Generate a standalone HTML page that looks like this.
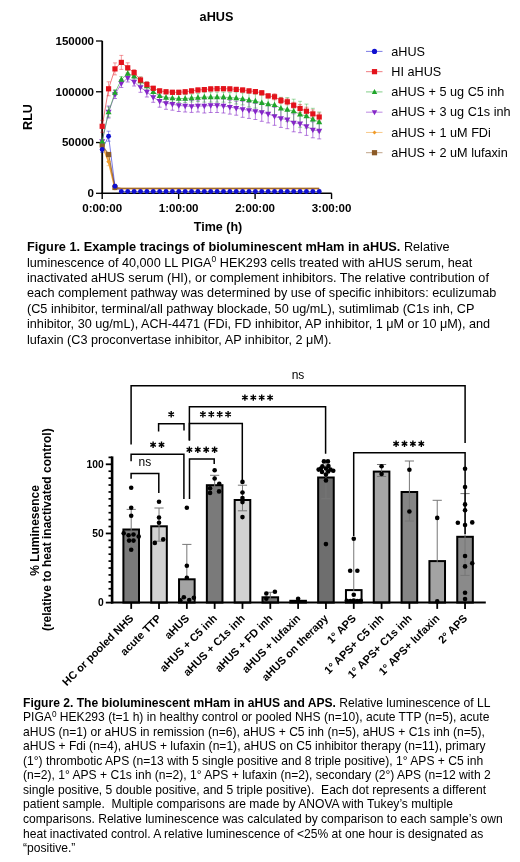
<!DOCTYPE html>
<html><head><meta charset="utf-8"><style>
html,body{margin:0;padding:0;background:#fff;}
svg{display:block;font-family:"Liberation Sans", sans-serif;will-change:transform;}
</style></head><body>
<svg width="520" height="862" viewBox="0 0 520 862">
<rect width="520" height="862" fill="#fff"/>
<text x="216.5" y="21.3" font-size="12.66" font-weight="bold" text-anchor="middle">aHUS</text><path d="M102.2,40.8V193.6" stroke="#000" stroke-width="1.8" fill="none"/><path d="M96,193.30H102.2" stroke="#000" stroke-width="1.3"/><text x="94" y="197.20" font-size="11.55" font-weight="bold" text-anchor="end">0</text><path d="M96,142.54H102.2" stroke="#000" stroke-width="1.3"/><text x="94" y="146.44" font-size="11.55" font-weight="bold" text-anchor="end">50000</text><path d="M96,91.77H102.2" stroke="#000" stroke-width="1.3"/><text x="94" y="95.67" font-size="11.55" font-weight="bold" text-anchor="end">100000</text><path d="M96,41.00H102.2" stroke="#000" stroke-width="1.3"/><text x="94" y="44.90" font-size="11.55" font-weight="bold" text-anchor="end">150000</text><path d="M101.3,193.3H331.7" stroke="#000" stroke-width="1.6" fill="none"/><path d="M102.20,193.3V199" stroke="#000" stroke-width="1.4"/><text x="102.20" y="212.3" font-size="11.55" font-weight="bold" text-anchor="middle">0:00:00</text><path d="M178.65,193.3V199" stroke="#000" stroke-width="1.4"/><text x="178.65" y="212.3" font-size="11.55" font-weight="bold" text-anchor="middle">1:00:00</text><path d="M255.10,193.3V199" stroke="#000" stroke-width="1.4"/><text x="255.10" y="212.3" font-size="11.55" font-weight="bold" text-anchor="middle">2:00:00</text><path d="M331.55,193.3V199" stroke="#000" stroke-width="1.4"/><text x="331.55" y="212.3" font-size="11.55" font-weight="bold" text-anchor="middle">3:00:00</text><text x="218" y="231.3" font-size="12.5" font-weight="bold" text-anchor="middle">Time (h)</text><text transform="translate(32.4,117) rotate(-90)" font-size="12.66" font-weight="bold" text-anchor="middle">RLU</text><polyline points="102.20,141.30 108.58,112.00 114.97,94.50 121.35,83.50 127.73,78.00 134.12,82.00 140.50,87.30 146.88,92.00 153.26,97.30 159.65,101.20 166.03,103.30 172.41,104.20 178.80,105.50 185.18,106.00 191.56,106.40 197.94,106.00 204.33,106.00 210.71,105.50 217.09,105.50 223.48,106.00 229.86,107.10 236.24,108.20 242.63,109.30 249.01,110.40 255.39,111.50 261.77,112.30 268.16,113.90 274.54,116.30 280.92,118.40 287.31,119.70 293.69,122.80 300.07,123.70 306.46,126.40 312.84,129.80 319.22,130.90" fill="none" stroke="#8526c8" stroke-width="0.8" stroke-opacity="0.7"/><polyline points="102.20,141.30 108.58,112.00 114.97,92.70 121.35,79.60 127.73,73.50 134.12,76.00 140.50,81.00 146.88,86.00 153.26,91.90 159.65,95.80 166.03,97.60 172.41,98.20 178.80,98.50 185.18,98.50 191.56,98.00 197.94,97.60 204.33,97.10 210.71,97.10 217.09,97.10 223.48,97.10 229.86,97.60 236.24,98.00 242.63,98.90 249.01,100.00 255.39,101.10 261.77,102.80 268.16,104.00 274.54,104.90 280.92,108.30 287.31,109.60 293.69,111.20 300.07,114.30 306.46,116.10 312.84,119.30 319.22,122.00" fill="none" stroke="#1fa52a" stroke-width="0.8" stroke-opacity="0.7"/><polyline points="102.20,126.30 108.58,88.80 114.97,68.90 121.35,62.40 127.73,67.80 134.12,72.60 140.50,80.00 146.88,84.60 153.26,88.30 159.65,90.90 166.03,91.80 172.41,92.30 178.80,92.30 185.18,91.80 191.56,90.90 197.94,90.00 204.33,89.60 210.71,88.90 217.09,88.70 223.48,88.70 229.86,88.90 236.24,89.40 242.63,90.00 249.01,90.90 255.39,91.60 261.77,92.80 268.16,95.90 274.54,96.80 280.92,100.50 287.31,101.80 293.69,105.30 300.07,108.50 306.46,111.20 312.84,113.90 319.22,117.00" fill="none" stroke="#e3121b" stroke-width="0.8" stroke-opacity="0.7"/><polyline points="102.20,145.00 108.58,161.70 114.97,188.20 121.35,188.60 127.73,188.60 134.12,188.60 140.50,188.60 146.88,188.60 153.26,188.60 159.65,188.60 166.03,188.60 172.41,188.60 178.80,188.60 185.18,188.60 191.56,188.60 197.94,188.60 204.33,188.60 210.71,188.60 217.09,188.60 223.48,188.60 229.86,188.60 236.24,188.60 242.63,188.60 249.01,188.60 255.39,188.60 261.77,188.60 268.16,188.60 274.54,188.60 280.92,188.60 287.31,188.60 293.69,188.60 300.07,188.60 306.46,188.60 312.84,188.60 319.22,188.60" fill="none" stroke="#f09a28" stroke-width="1.6" stroke-opacity="0.9"/><polyline points="102.20,145.00 108.58,154.50 114.97,187.50 121.35,188.30 127.73,188.30 134.12,188.30 140.50,188.30 146.88,188.30 153.26,188.30 159.65,188.30 166.03,188.30 172.41,188.30 178.80,188.30 185.18,188.30 191.56,188.30 197.94,188.30 204.33,188.30 210.71,188.30 217.09,188.30 223.48,188.30 229.86,188.30 236.24,188.30 242.63,188.30 249.01,188.30 255.39,188.30 261.77,188.30 268.16,188.30 274.54,188.30 280.92,188.30 287.31,188.30 293.69,188.30 300.07,188.30 306.46,188.30 312.84,188.30 319.22,188.30" fill="none" stroke="#8c5a26" stroke-width="1.3" stroke-opacity="0.8"/><polyline points="102.20,149.40 108.58,136.20 114.97,186.30 121.35,191.50 127.73,191.50 134.12,191.50 140.50,191.50 146.88,191.50 153.26,191.50 159.65,191.50 166.03,191.50 172.41,191.50 178.80,191.50 185.18,191.50 191.56,191.50 197.94,191.50 204.33,191.50 210.71,191.50 217.09,191.50 223.48,191.50 229.86,191.50 236.24,191.50 242.63,191.50 249.01,191.50 255.39,191.50 261.77,191.50 268.16,191.50 274.54,191.50 280.92,191.50 287.31,191.50 293.69,191.50 300.07,191.50 306.46,191.50 312.84,191.50 319.22,191.50" fill="none" stroke="#1010d0" stroke-width="0.8" stroke-opacity="0.7"/><path d="M108.58,106.00V118.00M106.58,106.00h4M106.58,118.00h4" stroke="#8526c8" stroke-width="0.8" stroke-opacity="0.75" fill="none"/><path d="M114.97,90.50V98.50M112.97,90.50h4M112.97,98.50h4" stroke="#8526c8" stroke-width="0.8" stroke-opacity="0.75" fill="none"/><path d="M121.35,79.50V87.50M119.35,79.50h4M119.35,87.50h4" stroke="#8526c8" stroke-width="0.8" stroke-opacity="0.75" fill="none"/><path d="M127.73,74.00V82.00M125.73,74.00h4M125.73,82.00h4" stroke="#8526c8" stroke-width="0.8" stroke-opacity="0.75" fill="none"/><path d="M134.12,78.00V86.00M132.12,78.00h4M132.12,86.00h4" stroke="#8526c8" stroke-width="0.8" stroke-opacity="0.75" fill="none"/><path d="M140.50,82.30V92.30M138.50,82.30h4M138.50,92.30h4" stroke="#8526c8" stroke-width="0.8" stroke-opacity="0.75" fill="none"/><path d="M146.88,87.00V97.00M144.88,87.00h4M144.88,97.00h4" stroke="#8526c8" stroke-width="0.8" stroke-opacity="0.75" fill="none"/><path d="M153.26,92.30V102.30M151.26,92.30h4M151.26,102.30h4" stroke="#8526c8" stroke-width="0.8" stroke-opacity="0.75" fill="none"/><path d="M159.65,95.20V107.20M157.65,95.20h4M157.65,107.20h4" stroke="#8526c8" stroke-width="0.8" stroke-opacity="0.75" fill="none"/><path d="M166.03,97.30V109.30M164.03,97.30h4M164.03,109.30h4" stroke="#8526c8" stroke-width="0.8" stroke-opacity="0.75" fill="none"/><path d="M172.41,98.20V110.20M170.41,98.20h4M170.41,110.20h4" stroke="#8526c8" stroke-width="0.8" stroke-opacity="0.75" fill="none"/><path d="M178.80,99.50V111.50M176.80,99.50h4M176.80,111.50h4" stroke="#8526c8" stroke-width="0.8" stroke-opacity="0.75" fill="none"/><path d="M185.18,100.00V112.00M183.18,100.00h4M183.18,112.00h4" stroke="#8526c8" stroke-width="0.8" stroke-opacity="0.75" fill="none"/><path d="M191.56,100.40V112.40M189.56,100.40h4M189.56,112.40h4" stroke="#8526c8" stroke-width="0.8" stroke-opacity="0.75" fill="none"/><path d="M197.94,100.00V112.00M195.94,100.00h4M195.94,112.00h4" stroke="#8526c8" stroke-width="0.8" stroke-opacity="0.75" fill="none"/><path d="M204.33,99.00V113.00M202.33,99.00h4M202.33,113.00h4" stroke="#8526c8" stroke-width="0.8" stroke-opacity="0.75" fill="none"/><path d="M210.71,98.50V112.50M208.71,98.50h4M208.71,112.50h4" stroke="#8526c8" stroke-width="0.8" stroke-opacity="0.75" fill="none"/><path d="M217.09,98.50V112.50M215.09,98.50h4M215.09,112.50h4" stroke="#8526c8" stroke-width="0.8" stroke-opacity="0.75" fill="none"/><path d="M223.48,99.00V113.00M221.48,99.00h4M221.48,113.00h4" stroke="#8526c8" stroke-width="0.8" stroke-opacity="0.75" fill="none"/><path d="M229.86,100.10V114.10M227.86,100.10h4M227.86,114.10h4" stroke="#8526c8" stroke-width="0.8" stroke-opacity="0.75" fill="none"/><path d="M236.24,101.20V115.20M234.24,101.20h4M234.24,115.20h4" stroke="#8526c8" stroke-width="0.8" stroke-opacity="0.75" fill="none"/><path d="M242.63,101.30V117.30M240.63,101.30h4M240.63,117.30h4" stroke="#8526c8" stroke-width="0.8" stroke-opacity="0.75" fill="none"/><path d="M249.01,102.40V118.40M247.01,102.40h4M247.01,118.40h4" stroke="#8526c8" stroke-width="0.8" stroke-opacity="0.75" fill="none"/><path d="M255.39,103.50V119.50M253.39,103.50h4M253.39,119.50h4" stroke="#8526c8" stroke-width="0.8" stroke-opacity="0.75" fill="none"/><path d="M261.77,103.30V121.30M259.77,103.30h4M259.77,121.30h4" stroke="#8526c8" stroke-width="0.8" stroke-opacity="0.75" fill="none"/><path d="M268.16,104.90V122.90M266.16,104.90h4M266.16,122.90h4" stroke="#8526c8" stroke-width="0.8" stroke-opacity="0.75" fill="none"/><path d="M274.54,107.30V125.30M272.54,107.30h4M272.54,125.30h4" stroke="#8526c8" stroke-width="0.8" stroke-opacity="0.75" fill="none"/><path d="M280.92,109.40V127.40M278.92,109.40h4M278.92,127.40h4" stroke="#8526c8" stroke-width="0.8" stroke-opacity="0.75" fill="none"/><path d="M287.31,110.70V128.70M285.31,110.70h4M285.31,128.70h4" stroke="#8526c8" stroke-width="0.8" stroke-opacity="0.75" fill="none"/><path d="M293.69,113.80V131.80M291.69,113.80h4M291.69,131.80h4" stroke="#8526c8" stroke-width="0.8" stroke-opacity="0.75" fill="none"/><path d="M300.07,114.70V132.70M298.07,114.70h4M298.07,132.70h4" stroke="#8526c8" stroke-width="0.8" stroke-opacity="0.75" fill="none"/><path d="M306.46,117.40V135.40M304.46,117.40h4M304.46,135.40h4" stroke="#8526c8" stroke-width="0.8" stroke-opacity="0.75" fill="none"/><path d="M312.84,121.80V137.80M310.84,121.80h4M310.84,137.80h4" stroke="#8526c8" stroke-width="0.8" stroke-opacity="0.75" fill="none"/><path d="M319.22,122.90V138.90M317.22,122.90h4M317.22,138.90h4" stroke="#8526c8" stroke-width="0.8" stroke-opacity="0.75" fill="none"/><path d="M108.58,107.00V117.00M106.58,107.00h4M106.58,117.00h4" stroke="#1fa52a" stroke-width="0.7" stroke-opacity="0.6" fill="none"/><path d="M114.97,89.70V95.70M112.97,89.70h4M112.97,95.70h4" stroke="#1fa52a" stroke-width="0.7" stroke-opacity="0.6" fill="none"/><path d="M121.35,76.60V82.60M119.35,76.60h4M119.35,82.60h4" stroke="#1fa52a" stroke-width="0.7" stroke-opacity="0.6" fill="none"/><path d="M127.73,70.50V76.50M125.73,70.50h4M125.73,76.50h4" stroke="#1fa52a" stroke-width="0.7" stroke-opacity="0.6" fill="none"/><path d="M134.12,73.00V79.00M132.12,73.00h4M132.12,79.00h4" stroke="#1fa52a" stroke-width="0.7" stroke-opacity="0.6" fill="none"/><path d="M140.50,77.00V85.00M138.50,77.00h4M138.50,85.00h4" stroke="#1fa52a" stroke-width="0.7" stroke-opacity="0.6" fill="none"/><path d="M146.88,82.00V90.00M144.88,82.00h4M144.88,90.00h4" stroke="#1fa52a" stroke-width="0.7" stroke-opacity="0.6" fill="none"/><path d="M153.26,87.90V95.90M151.26,87.90h4M151.26,95.90h4" stroke="#1fa52a" stroke-width="0.7" stroke-opacity="0.6" fill="none"/><path d="M159.65,91.80V99.80M157.65,91.80h4M157.65,99.80h4" stroke="#1fa52a" stroke-width="0.7" stroke-opacity="0.6" fill="none"/><path d="M166.03,93.60V101.60M164.03,93.60h4M164.03,101.60h4" stroke="#1fa52a" stroke-width="0.7" stroke-opacity="0.6" fill="none"/><path d="M172.41,94.20V102.20M170.41,94.20h4M170.41,102.20h4" stroke="#1fa52a" stroke-width="0.7" stroke-opacity="0.6" fill="none"/><path d="M178.80,94.50V102.50M176.80,94.50h4M176.80,102.50h4" stroke="#1fa52a" stroke-width="0.7" stroke-opacity="0.6" fill="none"/><path d="M185.18,94.50V102.50M183.18,94.50h4M183.18,102.50h4" stroke="#1fa52a" stroke-width="0.7" stroke-opacity="0.6" fill="none"/><path d="M191.56,94.00V102.00M189.56,94.00h4M189.56,102.00h4" stroke="#1fa52a" stroke-width="0.7" stroke-opacity="0.6" fill="none"/><path d="M197.94,93.60V101.60M195.94,93.60h4M195.94,101.60h4" stroke="#1fa52a" stroke-width="0.7" stroke-opacity="0.6" fill="none"/><path d="M204.33,92.10V102.10M202.33,92.10h4M202.33,102.10h4" stroke="#1fa52a" stroke-width="0.7" stroke-opacity="0.6" fill="none"/><path d="M210.71,92.10V102.10M208.71,92.10h4M208.71,102.10h4" stroke="#1fa52a" stroke-width="0.7" stroke-opacity="0.6" fill="none"/><path d="M217.09,92.10V102.10M215.09,92.10h4M215.09,102.10h4" stroke="#1fa52a" stroke-width="0.7" stroke-opacity="0.6" fill="none"/><path d="M223.48,92.10V102.10M221.48,92.10h4M221.48,102.10h4" stroke="#1fa52a" stroke-width="0.7" stroke-opacity="0.6" fill="none"/><path d="M229.86,92.60V102.60M227.86,92.60h4M227.86,102.60h4" stroke="#1fa52a" stroke-width="0.7" stroke-opacity="0.6" fill="none"/><path d="M236.24,92.00V104.00M234.24,92.00h4M234.24,104.00h4" stroke="#1fa52a" stroke-width="0.7" stroke-opacity="0.6" fill="none"/><path d="M242.63,92.90V104.90M240.63,92.90h4M240.63,104.90h4" stroke="#1fa52a" stroke-width="0.7" stroke-opacity="0.6" fill="none"/><path d="M249.01,93.00V107.00M247.01,93.00h4M247.01,107.00h4" stroke="#1fa52a" stroke-width="0.7" stroke-opacity="0.6" fill="none"/><path d="M255.39,94.10V108.10M253.39,94.10h4M253.39,108.10h4" stroke="#1fa52a" stroke-width="0.7" stroke-opacity="0.6" fill="none"/><path d="M261.77,94.80V110.80M259.77,94.80h4M259.77,110.80h4" stroke="#1fa52a" stroke-width="0.7" stroke-opacity="0.6" fill="none"/><path d="M268.16,95.00V113.00M266.16,95.00h4M266.16,113.00h4" stroke="#1fa52a" stroke-width="0.7" stroke-opacity="0.6" fill="none"/><path d="M274.54,94.90V114.90M272.54,94.90h4M272.54,114.90h4" stroke="#1fa52a" stroke-width="0.7" stroke-opacity="0.6" fill="none"/><path d="M280.92,97.30V119.30M278.92,97.30h4M278.92,119.30h4" stroke="#1fa52a" stroke-width="0.7" stroke-opacity="0.6" fill="none"/><path d="M287.31,97.60V121.60M285.31,97.60h4M285.31,121.60h4" stroke="#1fa52a" stroke-width="0.7" stroke-opacity="0.6" fill="none"/><path d="M293.69,99.20V123.20M291.69,99.20h4M291.69,123.20h4" stroke="#1fa52a" stroke-width="0.7" stroke-opacity="0.6" fill="none"/><path d="M300.07,101.30V127.30M298.07,101.30h4M298.07,127.30h4" stroke="#1fa52a" stroke-width="0.7" stroke-opacity="0.6" fill="none"/><path d="M306.46,104.10V128.10M304.46,104.10h4M304.46,128.10h4" stroke="#1fa52a" stroke-width="0.7" stroke-opacity="0.6" fill="none"/><path d="M312.84,108.30V130.30M310.84,108.30h4M310.84,130.30h4" stroke="#1fa52a" stroke-width="0.7" stroke-opacity="0.6" fill="none"/><path d="M319.22,112.00V132.00M317.22,112.00h4M317.22,132.00h4" stroke="#1fa52a" stroke-width="0.7" stroke-opacity="0.6" fill="none"/><path d="M102.20,120.30V132.30M100.20,120.30h4M100.20,132.30h4" stroke="#e3121b" stroke-width="0.7" stroke-opacity="0.6" fill="none"/><path d="M108.58,81.80V95.80M106.58,81.80h4M106.58,95.80h4" stroke="#e3121b" stroke-width="0.7" stroke-opacity="0.6" fill="none"/><path d="M114.97,62.90V74.90M112.97,62.90h4M112.97,74.90h4" stroke="#e3121b" stroke-width="0.7" stroke-opacity="0.6" fill="none"/><path d="M121.35,55.40V69.40M119.35,55.40h4M119.35,69.40h4" stroke="#e3121b" stroke-width="0.7" stroke-opacity="0.6" fill="none"/><path d="M127.73,62.80V72.80M125.73,62.80h4M125.73,72.80h4" stroke="#e3121b" stroke-width="0.7" stroke-opacity="0.6" fill="none"/><path d="M134.12,69.60V75.60M132.12,69.60h4M132.12,75.60h4" stroke="#e3121b" stroke-width="0.7" stroke-opacity="0.6" fill="none"/><path d="M140.50,77.00V83.00M138.50,77.00h4M138.50,83.00h4" stroke="#e3121b" stroke-width="0.7" stroke-opacity="0.6" fill="none"/><path d="M146.88,81.60V87.60M144.88,81.60h4M144.88,87.60h4" stroke="#e3121b" stroke-width="0.7" stroke-opacity="0.6" fill="none"/><path d="M153.26,86.30V90.30M151.26,86.30h4M151.26,90.30h4" stroke="#e3121b" stroke-width="0.7" stroke-opacity="0.6" fill="none"/><path d="M159.65,88.90V92.90M157.65,88.90h4M157.65,92.90h4" stroke="#e3121b" stroke-width="0.7" stroke-opacity="0.6" fill="none"/><path d="M166.03,89.80V93.80M164.03,89.80h4M164.03,93.80h4" stroke="#e3121b" stroke-width="0.7" stroke-opacity="0.6" fill="none"/><path d="M172.41,90.30V94.30M170.41,90.30h4M170.41,94.30h4" stroke="#e3121b" stroke-width="0.7" stroke-opacity="0.6" fill="none"/><path d="M178.80,90.30V94.30M176.80,90.30h4M176.80,94.30h4" stroke="#e3121b" stroke-width="0.7" stroke-opacity="0.6" fill="none"/><path d="M185.18,89.80V93.80M183.18,89.80h4M183.18,93.80h4" stroke="#e3121b" stroke-width="0.7" stroke-opacity="0.6" fill="none"/><path d="M191.56,88.90V92.90M189.56,88.90h4M189.56,92.90h4" stroke="#e3121b" stroke-width="0.7" stroke-opacity="0.6" fill="none"/><path d="M197.94,88.00V92.00M195.94,88.00h4M195.94,92.00h4" stroke="#e3121b" stroke-width="0.7" stroke-opacity="0.6" fill="none"/><path d="M204.33,87.60V91.60M202.33,87.60h4M202.33,91.60h4" stroke="#e3121b" stroke-width="0.7" stroke-opacity="0.6" fill="none"/><path d="M210.71,86.90V90.90M208.71,86.90h4M208.71,90.90h4" stroke="#e3121b" stroke-width="0.7" stroke-opacity="0.6" fill="none"/><path d="M217.09,86.70V90.70M215.09,86.70h4M215.09,90.70h4" stroke="#e3121b" stroke-width="0.7" stroke-opacity="0.6" fill="none"/><path d="M223.48,86.70V90.70M221.48,86.70h4M221.48,90.70h4" stroke="#e3121b" stroke-width="0.7" stroke-opacity="0.6" fill="none"/><path d="M229.86,86.90V90.90M227.86,86.90h4M227.86,90.90h4" stroke="#e3121b" stroke-width="0.7" stroke-opacity="0.6" fill="none"/><path d="M236.24,87.40V91.40M234.24,87.40h4M234.24,91.40h4" stroke="#e3121b" stroke-width="0.7" stroke-opacity="0.6" fill="none"/><path d="M242.63,88.00V92.00M240.63,88.00h4M240.63,92.00h4" stroke="#e3121b" stroke-width="0.7" stroke-opacity="0.6" fill="none"/><path d="M249.01,88.90V92.90M247.01,88.90h4M247.01,92.90h4" stroke="#e3121b" stroke-width="0.7" stroke-opacity="0.6" fill="none"/><path d="M255.39,89.60V93.60M253.39,89.60h4M253.39,93.60h4" stroke="#e3121b" stroke-width="0.7" stroke-opacity="0.6" fill="none"/><path d="M261.77,90.80V94.80M259.77,90.80h4M259.77,94.80h4" stroke="#e3121b" stroke-width="0.7" stroke-opacity="0.6" fill="none"/><path d="M268.16,93.90V97.90M266.16,93.90h4M266.16,97.90h4" stroke="#e3121b" stroke-width="0.7" stroke-opacity="0.6" fill="none"/><path d="M274.54,93.80V99.80M272.54,93.80h4M272.54,99.80h4" stroke="#e3121b" stroke-width="0.7" stroke-opacity="0.6" fill="none"/><path d="M280.92,97.50V103.50M278.92,97.50h4M278.92,103.50h4" stroke="#e3121b" stroke-width="0.7" stroke-opacity="0.6" fill="none"/><path d="M287.31,98.80V104.80M285.31,98.80h4M285.31,104.80h4" stroke="#e3121b" stroke-width="0.7" stroke-opacity="0.6" fill="none"/><path d="M293.69,102.30V108.30M291.69,102.30h4M291.69,108.30h4" stroke="#e3121b" stroke-width="0.7" stroke-opacity="0.6" fill="none"/><path d="M300.07,104.50V112.50M298.07,104.50h4M298.07,112.50h4" stroke="#e3121b" stroke-width="0.7" stroke-opacity="0.6" fill="none"/><path d="M306.46,107.20V115.20M304.46,107.20h4M304.46,115.20h4" stroke="#e3121b" stroke-width="0.7" stroke-opacity="0.6" fill="none"/><path d="M312.84,109.90V117.90M310.84,109.90h4M310.84,117.90h4" stroke="#e3121b" stroke-width="0.7" stroke-opacity="0.6" fill="none"/><path d="M319.22,113.00V121.00M317.22,113.00h4M317.22,121.00h4" stroke="#e3121b" stroke-width="0.7" stroke-opacity="0.6" fill="none"/><path d="M102.20,146.40V152.40M100.20,146.40h4M100.20,152.40h4" stroke="#1010d0" stroke-width="0.7" stroke-opacity="0.6" fill="none"/><path d="M108.58,131.20V141.20M106.58,131.20h4M106.58,141.20h4" stroke="#1010d0" stroke-width="0.7" stroke-opacity="0.6" fill="none"/><path d="M114.97,184.30V188.30M112.97,184.30h4M112.97,188.30h4" stroke="#1010d0" stroke-width="0.7" stroke-opacity="0.6" fill="none"/><path d="M108.58,157.70V165.70M106.58,157.70h4M106.58,165.70h4" stroke="#f09a28" stroke-width="0.7" stroke-opacity="0.6" fill="none"/><path d="M102.20,142.70L104.50,145.00L102.20,147.30L99.90,145.00Z" fill="#f09a28"/><path d="M108.58,159.40L110.88,161.70L108.58,164.00L106.28,161.70Z" fill="#f09a28"/><path d="M114.97,185.90L117.27,188.20L114.97,190.50L112.67,188.20Z" fill="#f09a28"/><rect x="99.60" y="142.40" width="5.2" height="5.2" fill="#8c5a26"/><rect x="105.98" y="151.90" width="5.2" height="5.2" fill="#8c5a26"/><rect x="112.37" y="184.90" width="5.2" height="5.2" fill="#8c5a26"/><path d="M102.20,144.54L105.20,139.14L99.20,139.14Z" fill="#8526c8"/><path d="M108.58,115.24L111.58,109.84L105.58,109.84Z" fill="#8526c8"/><path d="M114.97,97.74L117.97,92.34L111.97,92.34Z" fill="#8526c8"/><path d="M121.35,86.74L124.35,81.34L118.35,81.34Z" fill="#8526c8"/><path d="M127.73,81.24L130.73,75.84L124.73,75.84Z" fill="#8526c8"/><path d="M134.12,85.24L137.12,79.84L131.12,79.84Z" fill="#8526c8"/><path d="M140.50,90.54L143.50,85.14L137.50,85.14Z" fill="#8526c8"/><path d="M146.88,95.24L149.88,89.84L143.88,89.84Z" fill="#8526c8"/><path d="M153.26,100.54L156.26,95.14L150.26,95.14Z" fill="#8526c8"/><path d="M159.65,104.44L162.65,99.04L156.65,99.04Z" fill="#8526c8"/><path d="M166.03,106.54L169.03,101.14L163.03,101.14Z" fill="#8526c8"/><path d="M172.41,107.44L175.41,102.04L169.41,102.04Z" fill="#8526c8"/><path d="M178.80,108.74L181.80,103.34L175.80,103.34Z" fill="#8526c8"/><path d="M185.18,109.24L188.18,103.84L182.18,103.84Z" fill="#8526c8"/><path d="M191.56,109.64L194.56,104.24L188.56,104.24Z" fill="#8526c8"/><path d="M197.94,109.24L200.94,103.84L194.94,103.84Z" fill="#8526c8"/><path d="M204.33,109.24L207.33,103.84L201.33,103.84Z" fill="#8526c8"/><path d="M210.71,108.74L213.71,103.34L207.71,103.34Z" fill="#8526c8"/><path d="M217.09,108.74L220.09,103.34L214.09,103.34Z" fill="#8526c8"/><path d="M223.48,109.24L226.48,103.84L220.48,103.84Z" fill="#8526c8"/><path d="M229.86,110.34L232.86,104.94L226.86,104.94Z" fill="#8526c8"/><path d="M236.24,111.44L239.24,106.04L233.24,106.04Z" fill="#8526c8"/><path d="M242.63,112.54L245.63,107.14L239.63,107.14Z" fill="#8526c8"/><path d="M249.01,113.64L252.01,108.24L246.01,108.24Z" fill="#8526c8"/><path d="M255.39,114.74L258.39,109.34L252.39,109.34Z" fill="#8526c8"/><path d="M261.77,115.54L264.77,110.14L258.77,110.14Z" fill="#8526c8"/><path d="M268.16,117.14L271.16,111.74L265.16,111.74Z" fill="#8526c8"/><path d="M274.54,119.54L277.54,114.14L271.54,114.14Z" fill="#8526c8"/><path d="M280.92,121.64L283.92,116.24L277.92,116.24Z" fill="#8526c8"/><path d="M287.31,122.94L290.31,117.54L284.31,117.54Z" fill="#8526c8"/><path d="M293.69,126.04L296.69,120.64L290.69,120.64Z" fill="#8526c8"/><path d="M300.07,126.94L303.07,121.54L297.07,121.54Z" fill="#8526c8"/><path d="M306.46,129.64L309.46,124.24L303.46,124.24Z" fill="#8526c8"/><path d="M312.84,133.04L315.84,127.64L309.84,127.64Z" fill="#8526c8"/><path d="M319.22,134.14L322.22,128.74L316.22,128.74Z" fill="#8526c8"/><path d="M102.20,138.06L105.20,143.46L99.20,143.46Z" fill="#1fa52a"/><path d="M108.58,108.76L111.58,114.16L105.58,114.16Z" fill="#1fa52a"/><path d="M114.97,89.46L117.97,94.86L111.97,94.86Z" fill="#1fa52a"/><path d="M121.35,76.36L124.35,81.76L118.35,81.76Z" fill="#1fa52a"/><path d="M127.73,70.26L130.73,75.66L124.73,75.66Z" fill="#1fa52a"/><path d="M134.12,72.76L137.12,78.16L131.12,78.16Z" fill="#1fa52a"/><path d="M140.50,77.76L143.50,83.16L137.50,83.16Z" fill="#1fa52a"/><path d="M146.88,82.76L149.88,88.16L143.88,88.16Z" fill="#1fa52a"/><path d="M153.26,88.66L156.26,94.06L150.26,94.06Z" fill="#1fa52a"/><path d="M159.65,92.56L162.65,97.96L156.65,97.96Z" fill="#1fa52a"/><path d="M166.03,94.36L169.03,99.76L163.03,99.76Z" fill="#1fa52a"/><path d="M172.41,94.96L175.41,100.36L169.41,100.36Z" fill="#1fa52a"/><path d="M178.80,95.26L181.80,100.66L175.80,100.66Z" fill="#1fa52a"/><path d="M185.18,95.26L188.18,100.66L182.18,100.66Z" fill="#1fa52a"/><path d="M191.56,94.76L194.56,100.16L188.56,100.16Z" fill="#1fa52a"/><path d="M197.94,94.36L200.94,99.76L194.94,99.76Z" fill="#1fa52a"/><path d="M204.33,93.86L207.33,99.26L201.33,99.26Z" fill="#1fa52a"/><path d="M210.71,93.86L213.71,99.26L207.71,99.26Z" fill="#1fa52a"/><path d="M217.09,93.86L220.09,99.26L214.09,99.26Z" fill="#1fa52a"/><path d="M223.48,93.86L226.48,99.26L220.48,99.26Z" fill="#1fa52a"/><path d="M229.86,94.36L232.86,99.76L226.86,99.76Z" fill="#1fa52a"/><path d="M236.24,94.76L239.24,100.16L233.24,100.16Z" fill="#1fa52a"/><path d="M242.63,95.66L245.63,101.06L239.63,101.06Z" fill="#1fa52a"/><path d="M249.01,96.76L252.01,102.16L246.01,102.16Z" fill="#1fa52a"/><path d="M255.39,97.86L258.39,103.26L252.39,103.26Z" fill="#1fa52a"/><path d="M261.77,99.56L264.77,104.96L258.77,104.96Z" fill="#1fa52a"/><path d="M268.16,100.76L271.16,106.16L265.16,106.16Z" fill="#1fa52a"/><path d="M274.54,101.66L277.54,107.06L271.54,107.06Z" fill="#1fa52a"/><path d="M280.92,105.06L283.92,110.46L277.92,110.46Z" fill="#1fa52a"/><path d="M287.31,106.36L290.31,111.76L284.31,111.76Z" fill="#1fa52a"/><path d="M293.69,107.96L296.69,113.36L290.69,113.36Z" fill="#1fa52a"/><path d="M300.07,111.06L303.07,116.46L297.07,116.46Z" fill="#1fa52a"/><path d="M306.46,112.86L309.46,118.26L303.46,118.26Z" fill="#1fa52a"/><path d="M312.84,116.06L315.84,121.46L309.84,121.46Z" fill="#1fa52a"/><path d="M319.22,118.76L322.22,124.16L316.22,124.16Z" fill="#1fa52a"/><rect x="99.60" y="123.70" width="5.2" height="5.2" fill="#e3121b"/><rect x="105.98" y="86.20" width="5.2" height="5.2" fill="#e3121b"/><rect x="112.37" y="66.30" width="5.2" height="5.2" fill="#e3121b"/><rect x="118.75" y="59.80" width="5.2" height="5.2" fill="#e3121b"/><rect x="125.13" y="65.20" width="5.2" height="5.2" fill="#e3121b"/><rect x="131.52" y="70.00" width="5.2" height="5.2" fill="#e3121b"/><rect x="137.90" y="77.40" width="5.2" height="5.2" fill="#e3121b"/><rect x="144.28" y="82.00" width="5.2" height="5.2" fill="#e3121b"/><rect x="150.66" y="85.70" width="5.2" height="5.2" fill="#e3121b"/><rect x="157.05" y="88.30" width="5.2" height="5.2" fill="#e3121b"/><rect x="163.43" y="89.20" width="5.2" height="5.2" fill="#e3121b"/><rect x="169.81" y="89.70" width="5.2" height="5.2" fill="#e3121b"/><rect x="176.20" y="89.70" width="5.2" height="5.2" fill="#e3121b"/><rect x="182.58" y="89.20" width="5.2" height="5.2" fill="#e3121b"/><rect x="188.96" y="88.30" width="5.2" height="5.2" fill="#e3121b"/><rect x="195.34" y="87.40" width="5.2" height="5.2" fill="#e3121b"/><rect x="201.73" y="87.00" width="5.2" height="5.2" fill="#e3121b"/><rect x="208.11" y="86.30" width="5.2" height="5.2" fill="#e3121b"/><rect x="214.49" y="86.10" width="5.2" height="5.2" fill="#e3121b"/><rect x="220.88" y="86.10" width="5.2" height="5.2" fill="#e3121b"/><rect x="227.26" y="86.30" width="5.2" height="5.2" fill="#e3121b"/><rect x="233.64" y="86.80" width="5.2" height="5.2" fill="#e3121b"/><rect x="240.03" y="87.40" width="5.2" height="5.2" fill="#e3121b"/><rect x="246.41" y="88.30" width="5.2" height="5.2" fill="#e3121b"/><rect x="252.79" y="89.00" width="5.2" height="5.2" fill="#e3121b"/><rect x="259.17" y="90.20" width="5.2" height="5.2" fill="#e3121b"/><rect x="265.56" y="93.30" width="5.2" height="5.2" fill="#e3121b"/><rect x="271.94" y="94.20" width="5.2" height="5.2" fill="#e3121b"/><rect x="278.32" y="97.90" width="5.2" height="5.2" fill="#e3121b"/><rect x="284.71" y="99.20" width="5.2" height="5.2" fill="#e3121b"/><rect x="291.09" y="102.70" width="5.2" height="5.2" fill="#e3121b"/><rect x="297.47" y="105.90" width="5.2" height="5.2" fill="#e3121b"/><rect x="303.86" y="108.60" width="5.2" height="5.2" fill="#e3121b"/><rect x="310.24" y="111.30" width="5.2" height="5.2" fill="#e3121b"/><rect x="316.62" y="114.40" width="5.2" height="5.2" fill="#e3121b"/><circle cx="102.20" cy="149.40" r="2.45" fill="#1010d0"/><circle cx="108.58" cy="136.20" r="2.45" fill="#1010d0"/><circle cx="114.97" cy="186.30" r="2.45" fill="#1010d0"/><circle cx="121.35" cy="191.50" r="2.45" fill="#1010d0"/><circle cx="127.73" cy="191.50" r="2.45" fill="#1010d0"/><circle cx="134.12" cy="191.50" r="2.45" fill="#1010d0"/><circle cx="140.50" cy="191.50" r="2.45" fill="#1010d0"/><circle cx="146.88" cy="191.50" r="2.45" fill="#1010d0"/><circle cx="153.26" cy="191.50" r="2.45" fill="#1010d0"/><circle cx="159.65" cy="191.50" r="2.45" fill="#1010d0"/><circle cx="166.03" cy="191.50" r="2.45" fill="#1010d0"/><circle cx="172.41" cy="191.50" r="2.45" fill="#1010d0"/><circle cx="178.80" cy="191.50" r="2.45" fill="#1010d0"/><circle cx="185.18" cy="191.50" r="2.45" fill="#1010d0"/><circle cx="191.56" cy="191.50" r="2.45" fill="#1010d0"/><circle cx="197.94" cy="191.50" r="2.45" fill="#1010d0"/><circle cx="204.33" cy="191.50" r="2.45" fill="#1010d0"/><circle cx="210.71" cy="191.50" r="2.45" fill="#1010d0"/><circle cx="217.09" cy="191.50" r="2.45" fill="#1010d0"/><circle cx="223.48" cy="191.50" r="2.45" fill="#1010d0"/><circle cx="229.86" cy="191.50" r="2.45" fill="#1010d0"/><circle cx="236.24" cy="191.50" r="2.45" fill="#1010d0"/><circle cx="242.63" cy="191.50" r="2.45" fill="#1010d0"/><circle cx="249.01" cy="191.50" r="2.45" fill="#1010d0"/><circle cx="255.39" cy="191.50" r="2.45" fill="#1010d0"/><circle cx="261.77" cy="191.50" r="2.45" fill="#1010d0"/><circle cx="268.16" cy="191.50" r="2.45" fill="#1010d0"/><circle cx="274.54" cy="191.50" r="2.45" fill="#1010d0"/><circle cx="280.92" cy="191.50" r="2.45" fill="#1010d0"/><circle cx="287.31" cy="191.50" r="2.45" fill="#1010d0"/><circle cx="293.69" cy="191.50" r="2.45" fill="#1010d0"/><circle cx="300.07" cy="191.50" r="2.45" fill="#1010d0"/><circle cx="306.46" cy="191.50" r="2.45" fill="#1010d0"/><circle cx="312.84" cy="191.50" r="2.45" fill="#1010d0"/><circle cx="319.22" cy="191.50" r="2.45" fill="#1010d0"/><path d="M366,51.40H382.5" stroke="#1010d0" stroke-width="1" stroke-opacity="0.55"/><circle cx="374.50" cy="51.40" r="2.6" fill="#1010d0"/><text x="391.3" y="55.60" font-size="12.66">aHUS</text><path d="M366,71.66H382.5" stroke="#e3121b" stroke-width="1" stroke-opacity="0.55"/><rect x="371.90" y="69.06" width="5.2" height="5.2" fill="#e3121b"/><text x="391.3" y="75.86" font-size="12.66">HI aHUS</text><path d="M366,91.92H382.5" stroke="#1fa52a" stroke-width="1" stroke-opacity="0.55"/><path d="M374.50,88.95L377.25,93.90L371.75,93.90Z" fill="#1fa52a"/><text x="391.3" y="96.12" font-size="12.66">aHUS + 5 ug C5 inh</text><path d="M366,112.18H382.5" stroke="#8526c8" stroke-width="1" stroke-opacity="0.55"/><path d="M374.50,115.15L377.25,110.20L371.75,110.20Z" fill="#8526c8"/><text x="391.3" y="116.38" font-size="12.66">aHUS + 3 ug C1s inh</text><path d="M366,132.44H382.5" stroke="#f09a28" stroke-width="1" stroke-opacity="0.55"/><path d="M374.50,130.44L376.50,132.44L374.50,134.44L372.50,132.44Z" fill="#f09a28"/><text x="391.3" y="136.64" font-size="12.66">aHUS + 1 uM FDi</text><path d="M366,152.70H382.5" stroke="#8c5a26" stroke-width="1" stroke-opacity="0.55"/><rect x="371.90" y="150.10" width="5.2" height="5.2" fill="#8c5a26"/><text x="391.3" y="156.90" font-size="12.66">aHUS + 2 uM lufaxin</text>
<text x="27" y="251.10" font-size="12.66" xml:space="preserve"><tspan font-weight="bold" font-size="12.75">Figure 1. Example tracings of bioluminescent mHam in aHUS.</tspan> Relative</text><text x="27" y="266.52" font-size="12.66" xml:space="preserve">luminescence of 40,000 LL PIGA<tspan font-size="8.5" dy="-4.5">0</tspan><tspan dy="4.5"> HEK293 cells treated with aHUS serum, heat</tspan></text><text x="27" y="281.94" font-size="12.66" xml:space="preserve">inactivated aHUS serum (HI), or complement inhibitors. The relative contribution of</text><text x="27" y="297.36" font-size="12.66" xml:space="preserve">each complement pathway was determined by use of specific inhibitors: eculizumab</text><text x="27" y="312.78" font-size="12.66" xml:space="preserve">(C5 inhibitor, terminal/all pathway blockade, 50 ug/mL), sutimlimab (C1s inh, CP</text><text x="27" y="328.20" font-size="12.66" xml:space="preserve">inhibitor, 30 ug/mL), ACH-4471 (FDi, FD inhibitor, AP inhibitor, 1 &#956;M or 10 &#956;M), and</text><text x="27" y="343.62" font-size="12.66" xml:space="preserve">lufaxin (C3 proconvertase inhibitor, AP inhibitor, 2 &#956;M).</text><text x="23" y="706.70" font-size="12.09" xml:space="preserve"><tspan font-weight="bold">Figure 2. The bioluminescent mHam in aHUS and APS.</tspan> Relative luminescence of LL</text><text x="23" y="721.24" font-size="12.09" xml:space="preserve">PIGA<tspan font-size="8.2" dy="-4.3">0</tspan><tspan dy="4.3"> HEK293 (t=1 h) in healthy control or pooled NHS (n=10), acute TTP (n=5), acute</tspan></text><text x="23" y="735.78" font-size="12.09" xml:space="preserve">aHUS (n=1) or aHUS in remission (n=6), aHUS + C5 inh (n=5), aHUS + C1s inh (n=5),</text><text x="23" y="750.32" font-size="12.09" xml:space="preserve">aHUS + Fdi (n=4), aHUS + lufaxin (n=1), aHUS on C5 inhibitor therapy (n=11), primary</text><text x="23" y="764.86" font-size="12.09" xml:space="preserve">(1&#176;) thrombotic APS (n=13 with 5 single positive and 8 triple positive), 1&#176; APS + C5 inh</text><text x="23" y="779.40" font-size="12.09" xml:space="preserve">(n=2), 1&#176; APS + C1s inh (n=2), 1&#176; APS + lufaxin (n=2), secondary (2&#176;) APS (n=12 with 2</text><text x="23" y="793.94" font-size="12.09" xml:space="preserve">single positive, 5 double positive, and 5 triple positive).&#160; Each dot represents a different</text><text x="23" y="808.48" font-size="12.09" xml:space="preserve">patient sample.&#160; Multiple comparisons are made by ANOVA with Tukey&#8217;s multiple</text><text x="23" y="823.02" font-size="12.09" xml:space="preserve">comparisons. Relative luminescence was calculated by comparison to each sample&#8217;s own</text><text x="23" y="837.56" font-size="12.09" xml:space="preserve">heat inactivated control. A relative luminescence of &lt;25% at one hour is designated as</text><text x="23" y="852.10" font-size="12.09" xml:space="preserve">&#8220;positive.&#8221;</text>
<rect x="123.40" y="529.50" width="15.60" height="73.10" fill="#7a7a7a" stroke="#000" stroke-width="2.0"/><rect x="151.22" y="526.30" width="15.60" height="76.30" fill="#d2d2d2" stroke="#000" stroke-width="2.0"/><rect x="179.04" y="579.30" width="15.60" height="23.30" fill="#a3a3a3" stroke="#000" stroke-width="2.0"/><rect x="206.86" y="485.20" width="15.60" height="117.40" fill="#7a7a7a" stroke="#000" stroke-width="2.0"/><rect x="234.68" y="500.00" width="15.60" height="102.60" fill="#d2d2d2" stroke="#000" stroke-width="2.0"/><rect x="262.50" y="597.30" width="15.60" height="5.30" fill="#7a7a7a" stroke="#000" stroke-width="2.0"/><rect x="290.32" y="600.80" width="15.60" height="1.80" fill="#a3a3a3" stroke="#000" stroke-width="2.0"/><rect x="318.14" y="477.50" width="15.60" height="125.10" fill="#6e6e6e" stroke="#000" stroke-width="2.0"/><rect x="345.96" y="590.10" width="15.60" height="12.50" fill="#ffffff" stroke="#000" stroke-width="2.0"/><rect x="373.78" y="471.60" width="15.60" height="131.00" fill="#a6a6a6" stroke="#000" stroke-width="2.0"/><rect x="401.60" y="492.00" width="15.60" height="110.60" fill="#858585" stroke="#000" stroke-width="2.0"/><rect x="429.42" y="561.10" width="15.60" height="41.50" fill="#a3a3a3" stroke="#000" stroke-width="2.0"/><rect x="457.24" y="536.80" width="15.60" height="65.80" fill="#8a8a8a" stroke="#000" stroke-width="2.0"/><path d="M131.20,509.4V530.50M126.60,509.4h9.2M131.20,530.50V546.7M126.60,546.7h9.2" stroke="#777" stroke-width="1" fill="none"/><path d="M159.02,508V527.30M154.42,508h9.2M159.02,527.30V541.2M154.42,541.2h9.2" stroke="#777" stroke-width="1" fill="none"/><path d="M186.84,544.4V580.30M182.24,544.4h9.2" stroke="#777" stroke-width="1" fill="none"/><path d="M214.66,475.3V486.20M210.06,475.3h9.2M214.66,486.20V493.5M210.06,493.5h9.2" stroke="#777" stroke-width="1" fill="none"/><path d="M242.48,485.2V501.00M237.88,485.2h9.2M242.48,501.00V510.8M237.88,510.8h9.2" stroke="#777" stroke-width="1" fill="none"/><path d="M270.30,592.3V598.30M265.70,592.3h9.2M270.30,598.30V600M265.70,600h9.2" stroke="#777" stroke-width="1" fill="none"/><path d="M325.94,463V478.50M325.94,478.50V498.8M321.34,498.8h9.2" stroke="#777" stroke-width="1" fill="none"/><path d="M353.76,540V591.10" stroke="#777" stroke-width="1" fill="none"/><path d="M381.58,464.5V472.60M376.98,464.5h9.2M381.58,472.60V476.5M376.98,476.5h9.2" stroke="#777" stroke-width="1" fill="none"/><path d="M409.40,461V493.00M404.80,461h9.2M409.40,493.00V521M404.80,521h9.2" stroke="#777" stroke-width="1" fill="none"/><path d="M437.22,500.3V562.10M432.62,500.3h9.2" stroke="#777" stroke-width="1" fill="none"/><path d="M465.04,493.6V537.80M460.44,493.6h9.2M465.04,537.80V575.4M460.44,575.4h9.2" stroke="#777" stroke-width="1" fill="none"/><circle cx="131.20" cy="487.8" r="2.3" fill="#000"/><circle cx="131.20" cy="507.7" r="2.3" fill="#000"/><circle cx="131.20" cy="515.8" r="2.3" fill="#000"/><circle cx="123.70" cy="533.3" r="2.3" fill="#000"/><circle cx="128.60" cy="535.2" r="2.3" fill="#000"/><circle cx="133.50" cy="534.5" r="2.3" fill="#000"/><circle cx="138.70" cy="536.5" r="2.3" fill="#000"/><circle cx="129.10" cy="540.6" r="2.3" fill="#000"/><circle cx="133.50" cy="540.6" r="2.3" fill="#000"/><circle cx="131.20" cy="549.8" r="2.3" fill="#000"/><circle cx="159.02" cy="501.7" r="2.3" fill="#000"/><circle cx="159.02" cy="517.5" r="2.3" fill="#000"/><circle cx="159.02" cy="522.7" r="2.3" fill="#000"/><circle cx="154.82" cy="542.9" r="2.3" fill="#000"/><circle cx="163.22" cy="539.4" r="2.3" fill="#000"/><circle cx="186.84" cy="507.7" r="2.3" fill="#000"/><circle cx="186.84" cy="565.7" r="2.3" fill="#000"/><circle cx="186.84" cy="577.7" r="2.3" fill="#000"/><circle cx="183.84" cy="597.3" r="2.3" fill="#000"/><circle cx="189.24" cy="600" r="2.3" fill="#000"/><circle cx="193.84" cy="597.7" r="2.3" fill="#000"/><circle cx="180.34" cy="600.3" r="2.3" fill="#000"/><circle cx="214.66" cy="470.2" r="2.3" fill="#000"/><circle cx="214.66" cy="478.5" r="2.3" fill="#000"/><circle cx="219.26" cy="483.7" r="2.3" fill="#000"/><circle cx="210.06" cy="488.3" r="2.3" fill="#000"/><circle cx="210.06" cy="492.9" r="2.3" fill="#000"/><circle cx="219.06" cy="491.4" r="2.3" fill="#000"/><circle cx="242.48" cy="481.9" r="2.3" fill="#000"/><circle cx="242.48" cy="492.5" r="2.3" fill="#000"/><circle cx="242.48" cy="498" r="2.3" fill="#000"/><circle cx="242.48" cy="502.1" r="2.3" fill="#000"/><circle cx="242.48" cy="517.1" r="2.3" fill="#000"/><circle cx="266.30" cy="593.5" r="2.3" fill="#000"/><circle cx="274.90" cy="591.7" r="2.3" fill="#000"/><circle cx="266.30" cy="598.7" r="2.3" fill="#000"/><circle cx="298.12" cy="598.7" r="2.3" fill="#000"/><circle cx="323.94" cy="461.4" r="2.3" fill="#000"/><circle cx="327.94" cy="461.4" r="2.3" fill="#000"/><circle cx="322.44" cy="466.2" r="2.3" fill="#000"/><circle cx="318.64" cy="469.6" r="2.3" fill="#000"/><circle cx="325.94" cy="468.5" r="2.3" fill="#000"/><circle cx="333.24" cy="470.8" r="2.3" fill="#000"/><circle cx="322.04" cy="471.9" r="2.3" fill="#000"/><circle cx="328.24" cy="471.5" r="2.3" fill="#000"/><circle cx="325.94" cy="474.6" r="2.3" fill="#000"/><circle cx="325.94" cy="480.4" r="2.3" fill="#000"/><circle cx="325.94" cy="544.1" r="2.3" fill="#000"/><circle cx="320.94" cy="468.5" r="2.3" fill="#000"/><circle cx="330.44" cy="469.5" r="2.3" fill="#000"/><circle cx="328.44" cy="466" r="2.3" fill="#000"/><circle cx="353.76" cy="538.7" r="2.3" fill="#000"/><circle cx="350.16" cy="570.7" r="2.3" fill="#000"/><circle cx="357.36" cy="570.7" r="2.3" fill="#000"/><circle cx="353.76" cy="594.7" r="2.3" fill="#000"/><circle cx="346.76" cy="600.8" r="2.3" fill="#000"/><circle cx="350.26" cy="601" r="2.3" fill="#000"/><circle cx="353.76" cy="600.5" r="2.3" fill="#000"/><circle cx="357.26" cy="601" r="2.3" fill="#000"/><circle cx="360.76" cy="600.8" r="2.3" fill="#000"/><circle cx="381.58" cy="466.2" r="2.3" fill="#000"/><circle cx="381.58" cy="474" r="2.3" fill="#000"/><circle cx="409.40" cy="469.8" r="2.3" fill="#000"/><circle cx="409.40" cy="511.5" r="2.3" fill="#000"/><circle cx="437.22" cy="517.9" r="2.3" fill="#000"/><circle cx="437.22" cy="601.4" r="2.3" fill="#000"/><circle cx="465.04" cy="468.8" r="2.3" fill="#000"/><circle cx="465.04" cy="487" r="2.3" fill="#000"/><circle cx="465.04" cy="504.4" r="2.3" fill="#000"/><circle cx="465.04" cy="510.3" r="2.3" fill="#000"/><circle cx="457.84" cy="522.7" r="2.3" fill="#000"/><circle cx="465.04" cy="525" r="2.3" fill="#000"/><circle cx="472.24" cy="522.4" r="2.3" fill="#000"/><circle cx="465.04" cy="556" r="2.3" fill="#000"/><circle cx="465.04" cy="566.4" r="2.3" fill="#000"/><circle cx="472.24" cy="563.3" r="2.3" fill="#000"/><circle cx="465.04" cy="592.8" r="2.3" fill="#000"/><circle cx="465.04" cy="599.1" r="2.3" fill="#000"/><path d="M112.1,456.4V603.6" stroke="#000" stroke-width="2.6" fill="none"/><path d="M105.8,602.60H112" stroke="#000" stroke-width="1.8"/><path d="M108.5,595.69H112" stroke="#000" stroke-width="1.7"/><path d="M108.5,588.77H112" stroke="#000" stroke-width="1.7"/><path d="M108.5,581.86H112" stroke="#000" stroke-width="1.7"/><path d="M108.5,574.94H112" stroke="#000" stroke-width="1.7"/><path d="M108.5,568.02H112" stroke="#000" stroke-width="1.7"/><path d="M108.5,561.11H112" stroke="#000" stroke-width="1.7"/><path d="M108.5,554.20H112" stroke="#000" stroke-width="1.7"/><path d="M108.5,547.28H112" stroke="#000" stroke-width="1.7"/><path d="M108.5,540.37H112" stroke="#000" stroke-width="1.7"/><path d="M105.8,533.45H112" stroke="#000" stroke-width="1.8"/><path d="M108.5,526.54H112" stroke="#000" stroke-width="1.7"/><path d="M108.5,519.62H112" stroke="#000" stroke-width="1.7"/><path d="M108.5,512.71H112" stroke="#000" stroke-width="1.7"/><path d="M108.5,505.79H112" stroke="#000" stroke-width="1.7"/><path d="M108.5,498.88H112" stroke="#000" stroke-width="1.7"/><path d="M108.5,491.96H112" stroke="#000" stroke-width="1.7"/><path d="M108.5,485.05H112" stroke="#000" stroke-width="1.7"/><path d="M108.5,478.13H112" stroke="#000" stroke-width="1.7"/><path d="M108.5,471.22H112" stroke="#000" stroke-width="1.7"/><path d="M105.8,464.30H112" stroke="#000" stroke-width="1.8"/><path d="M108.5,457.38H112" stroke="#000" stroke-width="1.7"/><text x="103.8" y="606.30" font-size="10.3" font-weight="bold" text-anchor="end">0</text><text x="103.8" y="537.15" font-size="10.3" font-weight="bold" text-anchor="end">50</text><text x="103.8" y="468.00" font-size="10.3" font-weight="bold" text-anchor="end">100</text><path d="M111,602.6H485.8" stroke="#000" stroke-width="2" fill="none"/><path d="M131.20,602.6V608.9" stroke="#000" stroke-width="1.8"/><path d="M159.02,602.6V608.9" stroke="#000" stroke-width="1.8"/><path d="M186.84,602.6V608.9" stroke="#000" stroke-width="1.8"/><path d="M214.66,602.6V608.9" stroke="#000" stroke-width="1.8"/><path d="M242.48,602.6V608.9" stroke="#000" stroke-width="1.8"/><path d="M270.30,602.6V608.9" stroke="#000" stroke-width="1.8"/><path d="M298.12,602.6V608.9" stroke="#000" stroke-width="1.8"/><path d="M325.94,602.6V608.9" stroke="#000" stroke-width="1.8"/><path d="M353.76,602.6V608.9" stroke="#000" stroke-width="1.8"/><path d="M381.58,602.6V608.9" stroke="#000" stroke-width="1.8"/><path d="M409.40,602.6V608.9" stroke="#000" stroke-width="1.8"/><path d="M437.22,602.6V608.9" stroke="#000" stroke-width="1.8"/><path d="M465.04,602.6V608.9" stroke="#000" stroke-width="1.8"/><text transform="translate(39.2,530.5) rotate(-90)" font-size="12" font-weight="bold" text-anchor="middle">% Luminesence</text><text transform="translate(51.4,529.7) rotate(-90)" font-size="12" font-weight="bold" text-anchor="middle">(relative to heat inactivated control)</text><text transform="translate(134.20,619) rotate(-45)" font-size="11" font-weight="bold" text-anchor="end">HC or pooled NHS</text><text transform="translate(162.02,619) rotate(-45)" font-size="11" font-weight="bold" text-anchor="end">acute TTP</text><text transform="translate(189.84,619) rotate(-45)" font-size="11" font-weight="bold" text-anchor="end">aHUS</text><text transform="translate(217.66,619) rotate(-45)" font-size="11" font-weight="bold" text-anchor="end">aHUS + C5 inh</text><text transform="translate(245.48,619) rotate(-45)" font-size="11" font-weight="bold" text-anchor="end">aHUS + C1s inh</text><text transform="translate(273.30,619) rotate(-45)" font-size="11" font-weight="bold" text-anchor="end">aHUS + FD inh</text><text transform="translate(301.12,619) rotate(-45)" font-size="11" font-weight="bold" text-anchor="end">aHUS + lufaxin</text><text transform="translate(328.94,619) rotate(-45)" font-size="11" font-weight="bold" text-anchor="end">aHUS on therapy</text><text transform="translate(356.76,619) rotate(-45)" font-size="11" font-weight="bold" text-anchor="end">1&#176; APS</text><text transform="translate(384.58,619) rotate(-45)" font-size="11" font-weight="bold" text-anchor="end">1&#176; APS+ C5 inh</text><text transform="translate(412.40,619) rotate(-45)" font-size="11" font-weight="bold" text-anchor="end">1&#176; APS+ C1s inh</text><text transform="translate(440.22,619) rotate(-45)" font-size="11" font-weight="bold" text-anchor="end">1&#176; APS+ lufaxin</text><text transform="translate(468.04,619) rotate(-45)" font-size="11" font-weight="bold" text-anchor="end">2&#176; APS</text><path d="M131.1,444.6V385.8H465.1V443" stroke="#000" stroke-width="1.5" fill="none"/><text x="298" y="378.7" font-size="12" text-anchor="middle">ns</text><path d="M189.4,440.5V406.8H325.6V453.8" stroke="#000" stroke-width="1.5" fill="none"/><path d="M244.90,394.40L244.90,400.80M242.13,396.00L247.67,399.20M242.13,399.20L247.67,396.00M253.30,394.40L253.30,400.80M250.53,396.00L256.07,399.20M250.53,399.20L256.07,396.00M261.70,394.40L261.70,400.80M258.93,396.00L264.47,399.20M258.93,399.20L264.47,396.00M270.10,394.40L270.10,400.80M267.33,396.00L272.87,399.20M267.33,399.20L272.87,396.00" stroke="#000" stroke-width="1.4" fill="none"/><path d="M158.6,431.5V423.7H184V430.5" stroke="#000" stroke-width="1.5" fill="none"/><path d="M171.20,411.10L171.20,417.50M168.43,412.70L173.97,415.90M168.43,415.90L173.97,412.70" stroke="#000" stroke-width="1.4" fill="none"/><path d="M189.4,440.5V423.6H242.3V481.2" stroke="#000" stroke-width="1.5" fill="none"/><path d="M202.90,411.10L202.90,417.50M200.13,412.70L205.67,415.90M200.13,415.90L205.67,412.70M211.30,411.10L211.30,417.50M208.53,412.70L214.07,415.90M208.53,415.90L214.07,412.70M219.70,411.10L219.70,417.50M216.93,412.70L222.47,415.90M216.93,415.90L222.47,412.70M228.10,411.10L228.10,417.50M225.33,412.70L230.87,415.90M225.33,415.90L230.87,412.70" stroke="#000" stroke-width="1.4" fill="none"/><path d="M131.1,461.2V454.2H183.9V499" stroke="#000" stroke-width="1.5" fill="none"/><path d="M153.10,441.60L153.10,448.00M150.33,443.20L155.87,446.40M150.33,446.40L155.87,443.20M161.50,441.60L161.50,448.00M158.73,443.20L164.27,446.40M158.73,446.40L164.27,443.20" stroke="#000" stroke-width="1.4" fill="none"/><path d="M189.5,499V459H214.2V464" stroke="#000" stroke-width="1.5" fill="none"/><path d="M189.40,446.60L189.40,453.00M186.63,448.20L192.17,451.40M186.63,451.40L192.17,448.20M197.80,446.60L197.80,453.00M195.03,448.20L200.57,451.40M195.03,451.40L200.57,448.20M206.20,446.60L206.20,453.00M203.43,448.20L208.97,451.40M203.43,451.40L208.97,448.20M214.60,446.60L214.60,453.00M211.83,448.20L217.37,451.40M211.83,451.40L217.37,448.20" stroke="#000" stroke-width="1.4" fill="none"/><path d="M131.1,478.7V473.6H158.8V493" stroke="#000" stroke-width="1.5" fill="none"/><text x="144.8" y="466" font-size="12" text-anchor="middle">ns</text><path d="M353.7,536V452.8H465.1V534" stroke="#000" stroke-width="1.5" fill="none"/><path d="M396.10,440.60L396.10,447.00M393.33,442.20L398.87,445.40M393.33,445.40L398.87,442.20M404.50,440.60L404.50,447.00M401.73,442.20L407.27,445.40M401.73,445.40L407.27,442.20M412.90,440.60L412.90,447.00M410.13,442.20L415.67,445.40M410.13,445.40L415.67,442.20M421.30,440.60L421.30,447.00M418.53,442.20L424.07,445.40M418.53,445.40L424.07,442.20" stroke="#000" stroke-width="1.4" fill="none"/>
</svg>
</body></html>
